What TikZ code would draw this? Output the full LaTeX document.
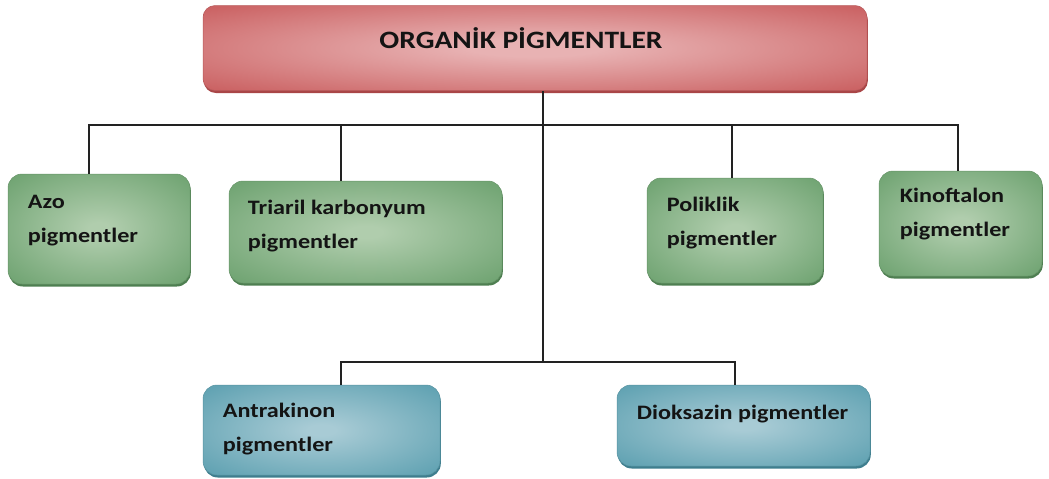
\documentclass[tikz,border=0pt]{standalone}
\usepackage{fontspec}
\setmainfont{Carlito}[FakeStretch=1.18]
\usetikzlibrary{shadows}
\definecolor{red-in}{HTML}{E8B2B3}
\definecolor{red-out}{HTML}{CB6364}
\definecolor{red-edge}{HTML}{A94647}
\definecolor{green-in}{HTML}{B0CDAD}
\definecolor{green-out}{HTML}{72A574}
\definecolor{green-edge}{HTML}{4E7F51}
\definecolor{blue-in}{HTML}{A8CBD5}
\definecolor{blue-out}{HTML}{62A3B3}
\definecolor{blue-edge}{HTML}{3E7E8E}
\definecolor{wire-col}{HTML}{222222}
\pgfdeclareradialshading{red-glow}{\pgfpoint{0bp}{0bp}}{color(0bp)=(red-in); color(5bp)=(red-in); color(34bp)=(red-out); color(50bp)=(red-out)}
\pgfdeclareradialshading{green-glow}{\pgfpoint{0bp}{0bp}}{color(0bp)=(green-in); color(3bp)=(green-in); color(33bp)=(green-out); color(50bp)=(green-out)}
\pgfdeclareradialshading{blue-glow}{\pgfpoint{0bp}{0bp}}{color(0bp)=(blue-in); color(3bp)=(blue-in); color(33bp)=(blue-out); color(50bp)=(blue-out)}
\tikzset{
  box/.style={rounded corners=14pt, inner sep=0pt, shading=#1-glow,
    draw=#1-out!90!black, line width=0.5pt,
    drop shadow={shadow xshift=0.8pt, shadow yshift=-2.5pt, fill=#1-edge, opacity=1}},
  lbl/.style={anchor=north west, inner sep=0pt, align=left, text=black!92,
    font=\bfseries\fontsize{20.5}{34}\selectfont},
  wire/.style={draw=wire-col, line width=1.5pt}
}
\begin{document}
\begin{tikzpicture}[x=1pt, y=-1pt]
  \useasboundingbox (0,0) rectangle (1049,479);
  % boxes
  \node[box=red, rounded corners=12pt, minimum width=664pt, minimum height=85pt]
        (org) at (535,48) {};
  \node[box=green, minimum width=182pt, minimum height=110pt] (azo) at (99,229) {};
  \node[box=green, minimum width=273pt, minimum height=102pt] (tri) at (365.5,232) {};
  \node[box=green, minimum width=176pt, minimum height=105pt] (pol) at (735,230.5) {};
  \node[box=green, minimum width=163pt, minimum height=105pt] (kin) at (960.5,223.5) {};
  \node[box=blue, minimum width=237pt, minimum height=90pt] (ant) at (321.5,430) {};
  \node[box=blue, minimum width=253pt, minimum height=81pt] (dio) at (743.5,425.5) {};
  % texts
  \node[lbl, anchor=north, font=\bfseries\fontsize{25}{28}\selectfont]
        (org-t) at ([shift={(-14,22)}]org.north) {ORGANİK PİGMENTLER};
  \node[lbl] (azo-t) at ([shift={(20,21)}]azo.north west) {Azo\\pigmentler};
  \node[lbl] (tri-t) at ([shift={(19,19)}]tri.north west) {Triaril karbonyum\\pigmentler};
  \node[lbl] (pol-t) at ([shift={(20,19)}]pol.north west) {Poliklik\\pigmentler};
  \node[lbl] (kin-t) at ([shift={(21,17)}]kin.north west) {Kinoftalon\\pigmentler};
  \node[lbl] (ant-t) at ([shift={(20,18)}]ant.north west) {Antrakinon\\pigmentler};
  \node[lbl] (dio-t) at ([shift={(20,20)}]dio.north west) {Dioksazin pigmentler};
  % connectors
  \coordinate (bus) at (543,125);
  \coordinate (bus2) at (543,362);
  \draw[wire] ([xshift=8]org.south) -- (bus2);
  \draw[wire] ([xshift=-10]azo.north) |- ([xshift=-2.5]kin.north |- bus)
        -- ([xshift=-2.5]kin.north);
  \draw[wire] ([xshift=-24.5]tri.north) -- ([xshift=-24.5]tri.north |- bus);
  \draw[wire] ([xshift=-3]pol.north) -- ([xshift=-3]pol.north |- bus);
  \draw[wire] ([xshift=19.5]ant.north) |- ([xshift=-8.5]dio.north |- bus2)
        -- ([xshift=-8.5]dio.north);
\end{tikzpicture}
\end{document}
